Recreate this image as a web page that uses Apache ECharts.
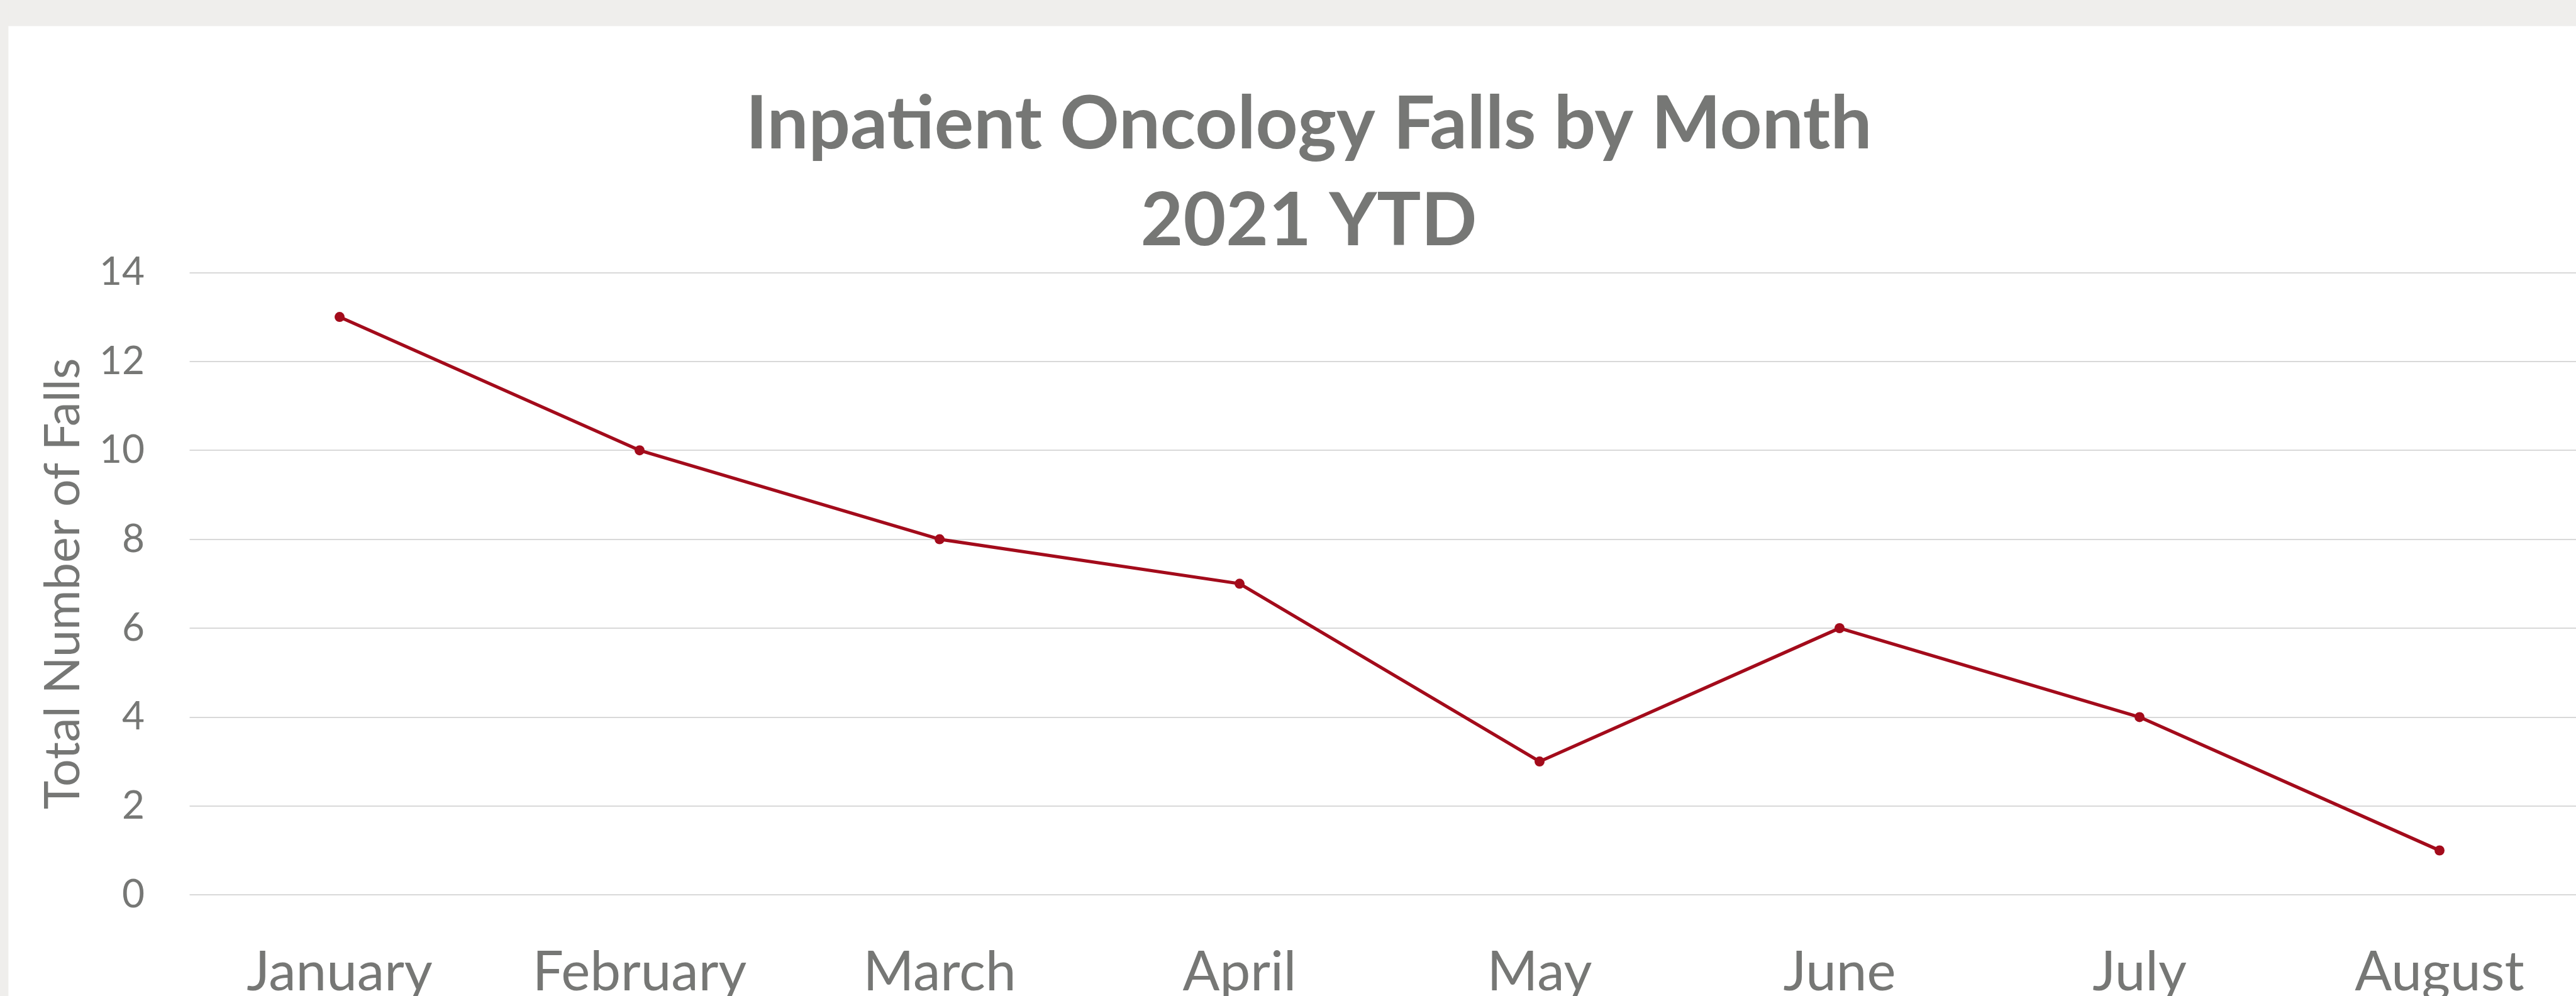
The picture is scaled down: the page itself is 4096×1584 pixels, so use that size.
<!DOCTYPE html>
<html>
<head>
<meta charset="utf-8">
<title>Inpatient Oncology Falls by Month</title>
<script src="https://cdn.jsdelivr.net/npm/echarts@6.0.0/dist/echarts.min.js"></script>
<style>
  html, body { margin: 0; padding: 0; background: #fff; overflow: hidden; }
  #chart { width: 4096px; height: 1584px; }
</style>
</head>
<body>
<div id="chart"></div>
<script>
// data
const months = ['January', 'February', 'March', 'April', 'May', 'June', 'July', 'August'];
const falls = [13, 10, 8, 7, 3, 6, 4, 1];
const yMin = 0;
const yMax = 14;
const yStep = 2;
const titleLines = ['Inpatient Oncology Falls by Month', '2021 YTD'];
const yAxisName = 'Total Number of Falls';

const FONT = 'Lato, "Open Sans", sans-serif';
const TEXT = '#767775';
const RED = '#A30B1B';

// pick font sizes so the text widths match the reference
const ctx = document.createElement('canvas').getContext('2d');
function fitSize(text, weight, width) {
  ctx.font = weight + ' 100px ' + FONT;
  return 100 * width / ctx.measureText(text).width;
}
const titleSize = fitSize(titleLines[0], 'bold', 1791);
const monthSize = fitSize('January', 'normal', 295.6);
const nameSize = fitSize(yAxisName, 'normal', 718);
const tickSize = fitSize('12', 'normal', 72);

const gridLeft = 301.5;

let myChart = echarts.init(document.getElementById('chart'));
myChart.setOption({
  animation: false,
  backgroundColor: '#fff',
  textStyle: { fontFamily: FONT },
  graphic: {
    elements: [
      { type: 'rect', silent: true, shape: { x: 0, y: 0, width: 4096, height: 41.6 }, style: { fill: '#EFEEEC' } },
      { type: 'rect', silent: true, shape: { x: 0, y: 0, width: 13.4, height: 1584 }, style: { fill: '#EFEEEC' } },
      {
        type: 'text', silent: true, x: 2081, y: 159 - 0.167 * titleSize,
        style: { text: titleLines[0], fill: TEXT, font: 'bold ' + titleSize + 'px ' + FONT, align: 'center', verticalAlign: 'top' }
      },
      {
        type: 'text', silent: true, x: 2081, y: 313.5 - 0.167 * titleSize,
        style: { text: titleLines[1], fill: TEXT, font: 'bold ' + titleSize + 'px ' + FONT, align: 'center', verticalAlign: 'top' }
      }
    ]
  },
  grid: {
    left: gridLeft,
    right: -21.5,
    top: 433.4,
    bottom: 160.8,
    containLabel: false,
    outerBoundsMode: 'none'
  },
  xAxis: {
    type: 'category',
    data: months,
    boundaryGap: true,
    axisLine: { show: false },
    axisTick: { show: false },
    splitLine: { show: false },
    axisLabel: { margin: 80, fontSize: monthSize, color: TEXT, fontFamily: FONT, interval: 0 }
  },
  yAxis: {
    type: 'value',
    min: yMin,
    max: yMax,
    interval: yStep,
    name: yAxisName,
    nameLocation: 'middle',
    nameRotate: 90,
    nameGap: gridLeft - 101 - nameSize / 2,
    nameTextStyle: { fontSize: nameSize, color: TEXT, fontFamily: FONT },
    axisLine: { show: false },
    axisTick: { show: false },
    axisLabel: { margin: 71.5, fontSize: tickSize, color: TEXT, fontFamily: FONT },
    splitLine: { lineStyle: { color: '#D9D9D9', width: 1.8 } }
  },
  tooltip: { show: false },
  series: [
    {
      type: 'line',
      data: falls,
      symbol: 'circle',
      symbolSize: 16,
      lineStyle: { color: RED, width: 5.2 },
      itemStyle: { color: RED }
    }
  ]
});
</script>
</body>
</html>
